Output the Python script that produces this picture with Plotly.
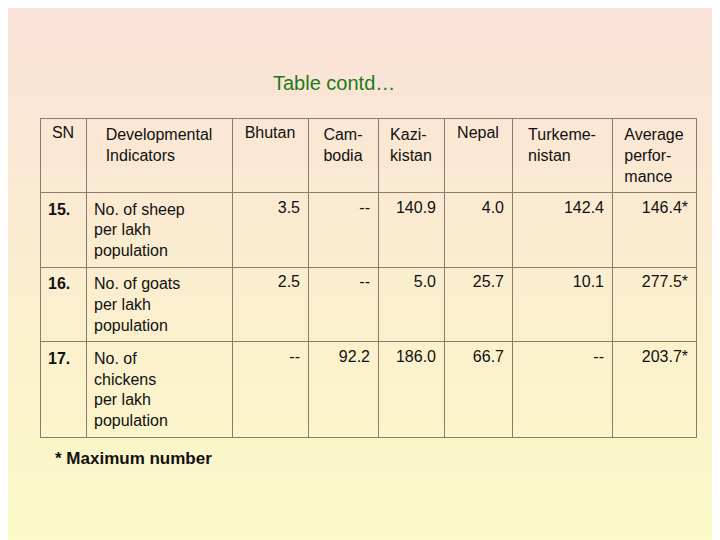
import plotly.graph_objects as go

headers = ["SN", "Developmental<br>Indicators", "Bhutan", "Cam-<br>bodia", "Kazi-<br>kistan",
           "Nepal", "Turkeme-<br>nistan", "Average<br>perfor-<br>mance"]
sn = ["<b>15.</b>", "<b>16.</b>", "<b>17.</b>"]
indicators = ["No. of sheep<br>per lakh<br>population",
              "No. of goats<br>per lakh<br>population",
              "No. of<br>chickens<br>per lakh<br>population"]
bhutan = ["3.5", "2.5", "--"]
cambodia = ["--", "--", "92.2"]
kazakhstan = ["140.9", "5.0", "186.0"]
nepal = ["4.0", "25.7", "66.7"]
turkmenistan = ["142.4", "10.1", "--"]
average = ["146.4*", "277.5*", "203.7*"]

colw = [46, 146, 76, 70, 66, 68, 100, 84]
W, H = 720, 540
fig = go.Figure()

top = (250, 226, 216); bot = (252, 250, 200)
n = 60
for i in range(n):
    t = i / (n - 1)
    c = tuple(int(top[k] + (bot[k] - top[k]) * t) for k in range(3))
    fig.add_shape(type="rect", xref="paper", yref="paper", x0=0, x1=1,
                  y0=1 - (i + 1) / n, y1=1 - i / n, fillcolor="rgb(%d,%d,%d)" % c,
                  line_width=0, layer="below")

line = dict(color="#8c7a6a", width=1)
fnt = dict(family="Liberation Sans, Arial", size=16, color="#111")
fig.add_trace(go.Table(
    domain=dict(x=[32 / W, 688 / W], y=[0.05, 1 - 110 / H]),
    columnwidth=colw,
    header=dict(values=headers, align="center", height=70,
                fill_color="rgba(0,0,0,0)", line=line, font=fnt),
    cells=dict(values=[sn, indicators, bhutan, cambodia, kazakhstan, nepal, turkmenistan, average],
               align=["left", "left", "right", "right", "right", "right", "right", "right"],
               height=70, fill_color="rgba(0,0,0,0)", line=line, font=fnt),
))

fig.add_annotation(text="Table contd…", x=326 / W, y=1 - 62 / H, xref="paper", yref="paper",
                   showarrow=False, font=dict(family="Liberation Sans, Arial", size=20, color="#1a7a1a"))
fig.add_annotation(text="<b>* Maximum number</b>", x=45 / W, y=1 - 462 / H, xref="paper", yref="paper",
                   xanchor="left", showarrow=False,
                   font=dict(family="Liberation Sans, Arial", size=17, color="#111"))

fig.update_layout(width=W, height=H, margin=dict(l=0, r=0, t=0, b=0),
                  paper_bgcolor="#fbf3d0", plot_bgcolor="rgba(0,0,0,0)")
fig.write_html("out.html")
